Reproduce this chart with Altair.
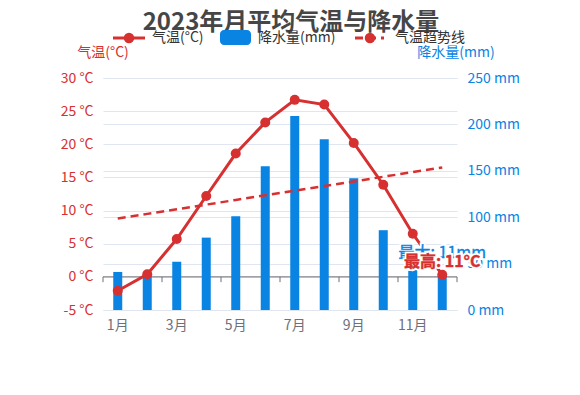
import altair as alt
import pandas as pd

# ---- data ----
months = ["1月", "2月", "3月", "4月", "5月", "6月", "7月", "8月", "9月", "10月", "11月", "12月"]
temp = [-2.1, 0.4, 5.7, 12.2, 18.6, 23.3, 26.7, 26.0, 20.2, 13.9, 6.5, 0.3]
precip = [41, 38, 52, 78, 101, 155, 209, 184, 142, 86, 52, 38]
trend = [8.8, 9.5, 10.2, 10.9, 11.6, 12.3, 13.0, 13.7, 14.4, 15.1, 15.8, 16.5]
label_months = ["1月", "3月", "5月", "7月", "9月", "11月"]
temp_ticks = [-5, 0, 5, 10, 15, 20, 25, 30]
precip_ticks = [0, 50, 100, 150, 200, 250]
legend_labels = ["气温(°C)", "降水量(mm)", "气温趋势线"]
title_text = "2023年月平均气温与降水量"
axis_titles = ["气温(°C)", "降水量(mm)"]
mark_labels = ["最大: 11mm", "最高: 11°C"]

RED = "#d63031"
BLUE = "#0984e3"
GRAY = "#6e7079"
GRID = "#e0e6f1"
TXT = "#333333"
FONT = "Noto Sans CJK SC"
W, H = 354, 232

df = pd.DataFrame({"month": months, "temp": temp, "precip": precip, "trend": trend})

xscale = alt.Scale(domain=months, paddingInner=0, paddingOuter=0)
xaxis = alt.Axis(values=label_months, title=None, domain=False, ticks=False, grid=False,
                 labelColor=GRAY, labelFontSize=14, labelPadding=8, labelAngle=0, labelFont=FONT)


def X(**kw):
    return alt.X("month:N", scale=xscale, axis=xaxis, **kw)


tscale = alt.Scale(domain=[-5, 30], nice=False, zero=False)
pscale = alt.Scale(domain=[0, 250], nice=False)
taxis = alt.Axis(orient="left", values=temp_ticks, labelExpr="datum.value + ' °C'",
                 title=None, domain=False, ticks=False, grid=True, gridColor=GRID,
                 labelColor=RED, labelFontSize=14, labelPadding=10, labelFont=FONT)
paxis = alt.Axis(orient="right", values=precip_ticks, labelExpr="datum.value + ' mm'",
                 title=None, domain=False, ticks=False, grid=True, gridColor=GRID,
                 labelColor=BLUE, labelFontSize=14, labelPadding=10, labelFont=FONT)

# ---- x axis line at 0 °C with ticks (temperature scale) ----
base_one = pd.DataFrame({"k": [0]})
zero_line = alt.Chart(base_one).mark_rule(color=GRAY, strokeWidth=1).encode(
    x=alt.value(0), x2=alt.value(W), y=alt.Y(datum=0, scale=tscale, axis=None))
tick_df = pd.DataFrame({"month": label_months})
ticks = alt.Chart(tick_df).mark_rule(color=GRAY, strokeWidth=1).encode(
    x=X(bandPosition=0), y=alt.Y(datum=0, scale=tscale, axis=None), y2=alt.Y2(datum=-0.8))
end_tick = alt.Chart(pd.DataFrame({"month": [months[-1]]})).mark_rule(color=GRAY, strokeWidth=1).encode(
    x=X(bandPosition=1), y=alt.Y(datum=0, scale=tscale, axis=None), y2=alt.Y2(datum=-0.8))
axis_group = alt.layer(zero_line, ticks, end_tick)

# ---- precipitation bars (right axis) ----
bars = alt.Chart(df).mark_bar(size=9, color=BLUE).encode(
    x=X(), y=alt.Y("precip:Q", scale=pscale, axis=paxis))

# ---- temperature (left axis) ----
trend_line = alt.Chart(df).mark_line(color=RED, strokeWidth=2.5, strokeDash=[8, 5]).encode(
    x=X(), y=alt.Y("trend:Q", scale=tscale, axis=taxis))
tline = alt.Chart(df).mark_line(color=RED, strokeWidth=3).encode(
    x=X(), y=alt.Y("temp:Q", scale=tscale, axis=taxis))
tpts = alt.Chart(df).mark_circle(size=100, color=RED, opacity=1).encode(
    x=X(), y=alt.Y("temp:Q", scale=tscale, axis=taxis))
temp_group = alt.layer(trend_line, tline, tpts)

# ---- marker labels near December ----
lab_df = pd.DataFrame({"month": [months[-1]]})


def marker_label(text, color, ypix, size, weight):
    halo = alt.Chart(lab_df).mark_text(text=text, font=FONT, fontSize=size, fontWeight=weight,
                                       stroke="white", strokeWidth=4, fill="white",
                                       baseline="middle", align="center").encode(
        x=X(), y=alt.value(ypix))
    fg = alt.Chart(lab_df).mark_text(text=text, font=FONT, fontSize=size, fontWeight=weight,
                                     fill=color, stroke=color, strokeWidth=0.4,
                                     baseline="middle", align="center").encode(
        x=X(), y=alt.value(ypix))
    return alt.layer(halo, fg)


lab1 = marker_label(mark_labels[0], BLUE, 175, 16, "normal")
lab2 = marker_label(mark_labels[1], RED, 184, 16, "bold")


# ---- title, axis titles, legend (decorations) ----
def txt(text, x, y, color, size, weight="normal", align="left"):
    return alt.Chart(base_one).mark_text(text=text, font=FONT, fontSize=size, fontWeight=weight,
                                         color=color, align=align, baseline="middle").encode(
        x=alt.value(x), y=alt.value(y))


title = txt(title_text, 188, -55, "#464646", 24, "bold", "center")
ytitle_l = txt(axis_titles[0], 0, -25, RED, 14, align="center")
ytitle_r = txt(axis_titles[1], 353, -25, BLUE, 14, align="center")

LY = -40
leg1_line = alt.Chart(base_one).mark_rule(color=RED, strokeWidth=3).encode(
    x=alt.value(10), x2=alt.value(42), y=alt.value(LY))
leg1_dot = alt.Chart(base_one).mark_circle(size=110, color=RED, opacity=1).encode(
    x=alt.value(26), y=alt.value(LY))
leg1_txt = txt(legend_labels[0], 49, LY, TXT, 14)
leg2_rect = alt.Chart(base_one).mark_rect(color=BLUE, cornerRadius=4).encode(
    x=alt.value(117), x2=alt.value(148), y=alt.value(LY - 8), y2=alt.value(LY + 7))
leg2_txt = txt(legend_labels[1], 155, LY, TXT, 14)
leg3_line = alt.Chart(base_one).mark_rule(color=RED, strokeWidth=3, strokeDash=[8, 5]).encode(
    x=alt.value(252), x2=alt.value(281), y=alt.value(LY))
leg3_dot = alt.Chart(base_one).mark_circle(size=110, color=RED, opacity=1).encode(
    x=alt.value(267), y=alt.value(LY))
leg3_txt = txt(legend_labels[2], 292, LY, TXT, 14)

chart = alt.layer(
    axis_group, bars, temp_group, lab1, lab2,
    title, ytitle_l, ytitle_r,
    leg1_line, leg1_dot, leg1_txt, leg2_rect, leg2_txt, leg3_line, leg3_dot, leg3_txt,
).resolve_scale(y="independent").properties(
    width=W, height=H,
    autosize=alt.AutoSizeParams(type="none"),
    padding={"left": 95, "top": 70, "right": 115, "bottom": 77},
    background="white",
).configure_view(stroke=None)

chart.save("out.html", embed_options={"renderer": "svg", "actions": False})
